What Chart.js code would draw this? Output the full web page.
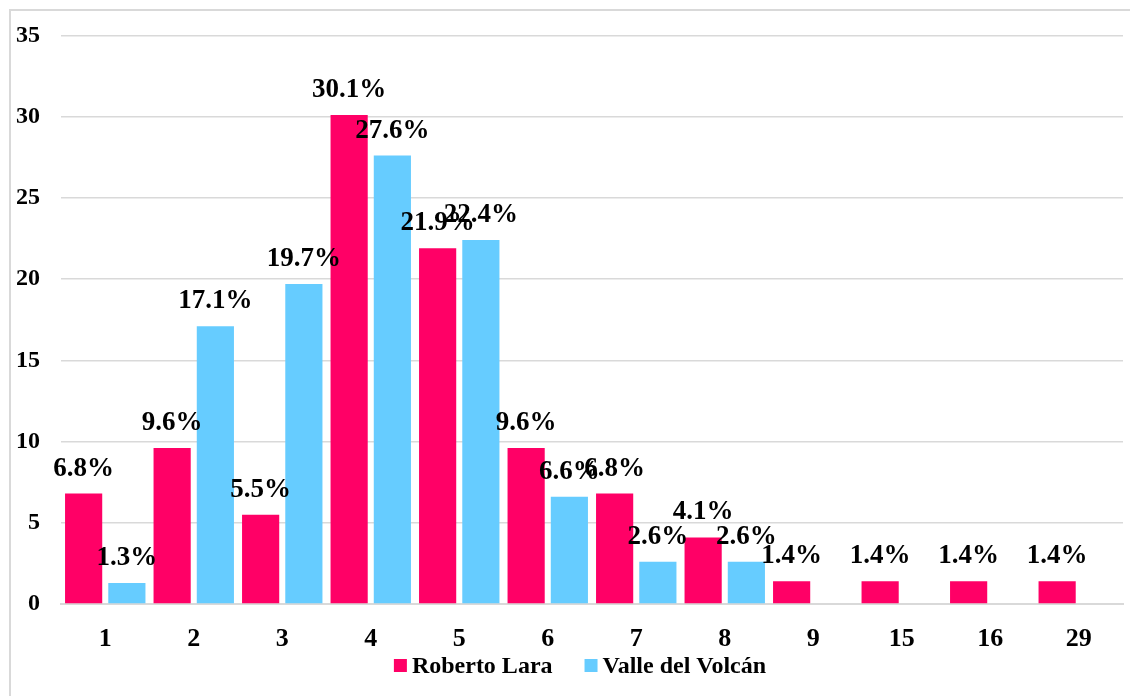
<!DOCTYPE html>
<html>
<head>
<meta charset="utf-8">
<script src="https://cdn.jsdelivr.net/npm/chart.js@4"></script>
<style>
  html, body { margin: 0; padding: 0; background: #fff; overflow: hidden; }
  #wrap { position: relative; width: 1130px; height: 696px; }
  #frame { position: absolute; left: 9px; top: 9px; width: 1200px; height: 800px; border: 2px solid #d9d9d9; box-sizing: border-box; }
  #chart { position: absolute; left: 0; top: 0; }
</style>
</head>
<body>
<div id="wrap">
  <div id="frame"></div>
  <canvas id="chart" width="1130" height="696"></canvas>
</div>
<script>
const categories = ["1", "2", "3", "4", "5", "6", "7", "8", "9", "15", "16", "29"];
const robertoLara = [6.8, 9.6, 5.5, 30.1, 21.9, 9.6, 6.8, 4.1, 1.4, 1.4, 1.4, 1.4];
const valleVolcan = [1.3, 17.1, 19.7, 27.6, 22.4, 6.6, 2.6, 2.6, null, null, null, null];
const seriesNames = ["Roberto Lara", "Valle del Volcán"];
const seriesColors = ["#FF0066", "#66CCFF"];

const fontFamily = "'Liberation Serif', 'Times New Roman', serif";

// etiquetas de porcentaje encima de cada barra
const etiquetas = {
  id: "etiquetas",
  afterDatasetsDraw(chart) {
    const ctx = chart.ctx;
    ctx.save();
    ctx.font = "bold 27px " + fontFamily;
    ctx.fillStyle = "#000";
    ctx.textAlign = "center";
    ctx.textBaseline = "alphabetic";
    chart.data.datasets.forEach((ds, i) => {
      const meta = chart.getDatasetMeta(i);
      meta.data.forEach((bar, j) => {
        const v = ds.data[j];
        if (v === null || v === undefined) return;
        ctx.fillText(v.toFixed(1) + "%", bar.x, bar.y - 18);
      });
    });
    ctx.restore();
  }
};

// leyenda dibujada a mano (cuadro pegado al texto, como en Excel)
const leyenda = {
  id: "leyenda",
  afterDraw(chart) {
    const ctx = chart.ctx;
    ctx.save();
    ctx.font = "bold 24px " + fontFamily;
    ctx.textBaseline = "middle";
    ctx.textAlign = "left";
    const box = 13, gapTexto = 5, gapItems = 32;
    const anchos = chart.data.datasets.map(ds => box + gapTexto + ctx.measureText(ds.label).width);
    const total = anchos.reduce((a, b) => a + b, 0) + gapItems * (anchos.length - 1);
    let x = 580 - total / 2;
    const y = 665;
    chart.data.datasets.forEach((ds, i) => {
      ctx.fillStyle = ds.backgroundColor;
      ctx.fillRect(x, y - 6, box, box);
      ctx.fillStyle = "#000";
      ctx.fillText(ds.label, x + box + gapTexto, y + 2);
      x += anchos[i] + gapItems;
    });
    ctx.restore();
  }
};

new Chart(document.getElementById("chart").getContext("2d"), {
  type: "bar",
  data: {
    labels: categories,
    datasets: [
      { label: seriesNames[0], data: robertoLara, backgroundColor: seriesColors[0] },
      { label: seriesNames[1], data: valleVolcan, backgroundColor: seriesColors[1] }
    ]
  },
  options: {
    responsive: false,
    animation: false,
    categoryPercentage: 0.977,
    barPercentage: 0.86,
    layout: { padding: { left: 10, right: 7, top: 34, bottom: 40 } },
    plugins: {
      legend: { display: false },
      tooltip: { enabled: false }
    },
    scales: {
      x: {
        grid: { display: false, drawTicks: false },
        border: { color: "#d9d9d9", width: 2 },
        ticks: {
          color: "#000",
          padding: 20,
          font: { family: fontFamily, size: 26, weight: "bold" }
        },
        afterFit: (s) => { s.height = 52; }
      },
      y: {
        min: 0,
        max: 35,
        grid: { color: "#d9d9d9", lineWidth: 1.5, drawTicks: false },
        border: { display: false },
        ticks: {
          stepSize: 5,
          color: "#000",
          padding: 21,
          font: { family: fontFamily, size: 24, weight: "bold" }
        },
        afterFit: (s) => { s.width = 51; }
      }
    }
  },
  plugins: [etiquetas, leyenda]
});
</script>
</body>
</html>
